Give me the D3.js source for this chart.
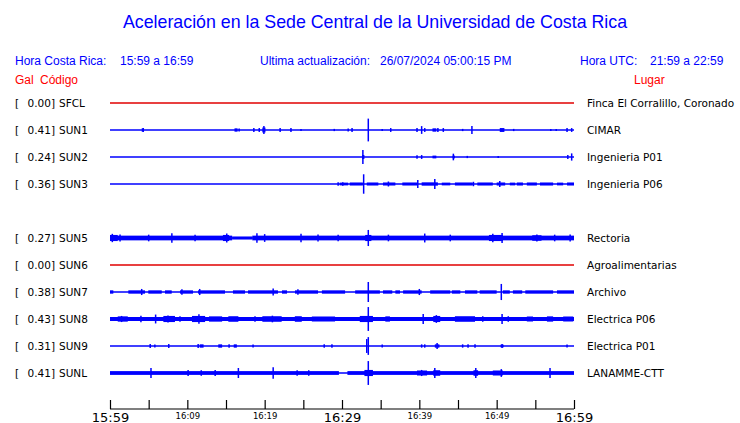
<!DOCTYPE html>
<html>
<head>
<meta charset="utf-8">
<script src="https://cdn.jsdelivr.net/npm/d3@7"></script>
<style>
html,body{margin:0;padding:0;background:#fff;}
svg{display:block;}
</style>
</head>
<body>
<svg id="chart" width="740" height="423"></svg>
<script>
// ---------- DATA ----------
const title = "Aceleración en la Sede Central de la Universidad de Costa Rica";
const rowSlots = ["SFCL","SUN1","SUN2","SUN3","SUN4","SUN5","SUN6","SUN7","SUN8","SUN9","SUNL"];
const stations = ["SFCL","SUN1","SUN2","SUN3","SUN5","SUN6","SUN7","SUN8","SUN9","SUNL"];
const gals     = [0.00, 0.41, 0.24, 0.36, 0.27, 0.00, 0.38, 0.43, 0.31, 0.41];
const places   = ["Finca El Corralillo, Coronado","CIMAR","Ingenieria P01","Ingenieria P06",
                  "Rectoria","Agroalimentarias","Archivo","Electrica P06","Electrica P01","LANAMME-CTT"];
const offline  = ["SFCL","SUN6"];
const tickMinutes = [0,5,10,15,20,25,30,35,40,45,50,55,60];
const tickLabels  = {0:"15:59",10:"16:09",20:"16:19",30:"16:29",40:"16:39",50:"16:49",60:"16:59"};
const majorLabels = [0,30,60];

// Spikes: [minute after 15:59, peak amplitude in Gal]
const sun1Spikes = [[4.3,0.07],[16.7,0.05],[18.6,0.07],[19.3,0.07],[19.9,0.14],[22.0,0.07],[23.4,0.07],
  [24.7,0.04],[29.0,0.04],[30.8,0.05],[31.3,0.07],[33.4,0.41],[35.2,0.04],[36.3,0.07],[39.7,0.07],
  [40.3,0.14],[40.7,0.07],[42.4,0.07],[43.1,0.07],[45.6,0.04],[46.8,0.14],[52.2,0.04],[57.0,0.04],
  [57.7,0.04],[59.1,0.07],[59.7,0.07]];
const sun1Bands = [[4.1,4.4,0.06],[16.1,16.5,0.06],[19.7,20.1,0.09],[41.7,42.2,0.06],[50.4,51.0,0.07]];

const sun2Spikes = [[32.7,0.25],[39.7,0.06],[40.3,0.07],[44.4,0.12],[46.2,0.04],[50.2,0.04],[59.2,0.07],[59.7,0.13]];
const sun2Bands  = [[41.7,42.2,0.05],[44.3,44.6,0.05],[32.6,32.9,0.07]];

const sun3Spikes = [[29.5,0.06],[30.1,0.06],[32.8,0.35],[39.8,0.14],[42.0,0.18],[50.4,0.11],[36.0,0.09],[47.0,0.08]];
const sun3Bands  = [[29.7,30.8,0.05],[31.0,32.7,0.055],[33.2,34.7,0.055],[35.3,36.9,0.055],[37.8,39.7,0.055],
  [40.3,42.4,0.06],[42.9,44.0,0.05],[44.6,46.9,0.055],[47.5,49.5,0.055],[50.0,51.1,0.055],[51.7,52.4,0.05],
  [52.6,53.4,0.055],[53.9,55.2,0.055],[55.6,57.3,0.055],[57.8,58.6,0.05],[59.1,60,0.055]];

const sun5Spikes = [[0.3,0.15],[1.3,0.13],[8.0,0.17],[15.1,0.16],[19.0,0.17],[20.0,0.14],[24.7,0.15],
  [26.9,0.13],[33.4,0.29],[40.7,0.16],[49.5,0.15],[50.7,0.18],[55.2,0.13],[59.5,0.13],[5.0,0.12],
  [11.0,0.12],[29.5,0.12],[36.0,0.12],[44.0,0.12],[57.5,0.12]];
const sun5Bands  = [[0,15.8,0.085],[15.8,18.4,0.055],[18.4,60,0.085],[0,1.0,0.11],[14.6,15.4,0.11],
  [33.0,33.8,0.11],[49.0,50.8,0.11],[54.6,55.8,0.10]];

const sun7Spikes = [[4.1,0.11],[9.3,0.10],[11.6,0.11],[21.1,0.13],[24.3,0.10],[33.4,0.36],[40.0,0.11],[50.6,0.29]];
const sun7Bands  = [[0,0.43,0.06],[2.37,4.53,0.06],[4.95,6.69,0.06],[7.11,7.98,0.06],[9.05,10.73,0.06],
  [11.38,14.87,0.06],[15.9,17.46,0.06],[17.85,21.72,0.06],[22.24,22.89,0.06],[23.92,26.9,0.06],
  [27.4,30.4,0.06],[31.7,34.9,0.06],[35.3,36.5,0.06],[36.9,37.5,0.06],[37.9,40.3,0.06],[41.4,44.0,0.06],
  [44.2,45.3,0.06],[45.9,47.5,0.06],[47.8,50.0,0.06],[50.8,51.7,0.06],[52.1,53.3,0.06],[53.7,57.3,0.06],
  [57.8,60,0.06]];

const sun8Spikes = [[4.0,0.12],[5.9,0.16],[9.05,0.10],[18.75,0.10],[33.4,0.43],[40.5,0.18],[48.2,0.10],
  [50.7,0.18],[51.5,0.10],[11.5,0.17],[1.5,0.11],[7.5,0.13],[21.0,0.12],[42.2,0.14]];
const sun8Bands  = [[0,60,0.072],[1.0,2.3,0.095],[6.9,8.4,0.11],[10.6,12.3,0.11],[12.8,14.5,0.095],
  [15.3,16.6,0.10],[19.7,22.2,0.10],[23.9,24.8,0.10],[26.1,29.1,0.09],[32.3,34.0,0.11],[35.6,36.2,0.095],
  [41.8,42.7,0.11],[44.6,47.2,0.10],[53.9,54.7,0.09],[56.5,57.3,0.095],[58.6,59.9,0.09]];

const sun9Spikes = [[5.2,0.07],[5.8,0.05],[7.6,0.07],[11.4,0.07],[15.4,0.06],[18.5,0.05],[27.7,0.06],
  [28.7,0.06],[33.2,0.25],[33.4,0.32],[35.2,0.05],[40.3,0.06],[40.7,0.06],[42.3,0.11],[45.6,0.06],
  [46.3,0.06],[47.2,0.06],[50.7,0.07],[59.1,0.05]];
const sun9Bands  = [[11.6,12.1,0.06],[14.0,14.5,0.06],[16.0,16.4,0.06],[42.0,42.6,0.06],[50.5,50.9,0.05]];

const sunlSpikes = [[5.3,0.18],[10.1,0.11],[11.8,0.10],[13.6,0.11],[16.6,0.18],[21.1,0.21],[24.2,0.10],
  [25.7,0.10],[33.4,0.43],[40.3,0.11],[42.0,0.18],[47.3,0.18],[50.6,0.14],[56.9,0.18]];
const sunlBands  = [[0,29.6,0.068],[30.7,60,0.068],[39.7,41.0,0.09],[41.8,42.7,0.10],[47.0,47.6,0.10],
  [49.5,50.8,0.09],[32.9,34.0,0.11]];

const spikeSets = {SUN1:sun1Spikes,SUN2:sun2Spikes,SUN3:sun3Spikes,SUN5:sun5Spikes,SUN7:sun7Spikes,
  SUN8:sun8Spikes,SUN9:sun9Spikes,SUNL:sunlSpikes};
const bandSets  = {SUN1:sun1Bands,SUN2:sun2Bands,SUN3:sun3Bands,SUN5:sun5Bands,SUN7:sun7Bands,
  SUN8:sun8Bands,SUN9:sun9Bands,SUNL:sunlBands};

// ---------- DRAWING ----------
const BLUE = "#0000ff", RED = "#e00000";
const svg = d3.select("#chart");

const x = d3.scaleLinear().domain([0,60]).range([110,574]);
const y = d3.scalePoint().domain(rowSlots).range([103,373]);
const amp = d3.scaleLinear().domain([0,0.45]).range([0,12.5]);

// Title
svg.append("text").attr("x",375).attr("y",28).attr("text-anchor","middle")
  .attr("font-family","Liberation Sans, Arial, sans-serif").attr("font-size",17.8)
  .attr("fill",BLUE).text(title);

// Header row
const hdr = svg.append("g").attr("font-family","Liberation Sans, Arial, sans-serif")
  .attr("font-size",12).attr("fill",BLUE);
[["Hora Costa Rica:",15],["15:59 a 16:59",120],["Ultima actualización:",260],
 ["26/07/2024 05:00:15 PM",380],["Hora UTC:",580],["21:59 a 22:59",650]].forEach(([t,px])=>{
  hdr.append("text").attr("x",px).attr("y",65).text(t);
});
const hdr2 = svg.append("g").attr("font-family","Liberation Sans, Arial, sans-serif")
  .attr("font-size",12).attr("fill","#ff0000");
[["Gal",15],["Código",40],["Lugar",634]].forEach(([t,px])=>{
  hdr2.append("text").attr("x",px).attr("y",84).text(t);
});

// Rows
const rows = svg.append("g");
stations.forEach((code,i)=>{
  const cy = y(code);
  const g = rows.append("g");
  const isOff = offline.includes(code);
  const col = isOff ? RED : BLUE;
  (bandSets[code]||[]).forEach(([t0,t1,a])=>{
    g.append("rect").attr("x",x(t0)).attr("width",Math.max(1,x(t1)-x(t0)))
      .attr("y",cy-amp(a)).attr("height",2*amp(a)).attr("fill",col);
  });
  g.append("line").attr("x1",x(0)).attr("x2",x(60)).attr("y1",cy).attr("y2",cy)
    .attr("stroke",col).attr("stroke-width",1.4);
  (spikeSets[code]||[]).forEach(([t,a])=>{
    g.append("line").attr("x1",x(t)).attr("x2",x(t)).attr("y1",cy-amp(a)).attr("y2",cy+amp(a))
      .attr("stroke",col).attr("stroke-width",1.5);
  });
  const lab = g.append("g").attr("font-family","DejaVu Sans, sans-serif").attr("font-size",10.5).attr("fill","#000");
  lab.append("text").attr("x",15).attr("y",cy+4).text("[");
  lab.append("text").attr("x",55).attr("y",cy+4).attr("text-anchor","end").text(gals[i].toFixed(2)+"]");
  lab.append("text").attr("x",59).attr("y",cy+4).text(code);
  lab.append("text").attr("x",587).attr("y",cy+4).text(places[i]);
});

// Time axis
const axis = d3.axisBottom(x).tickValues(tickMinutes).tickSize(-9).tickPadding(4)
  .tickFormat(d => tickLabels[d] || "");
const ax = svg.append("g").attr("transform","translate(0,409)").call(axis);
ax.select(".domain").attr("stroke","#000").attr("stroke-width",1.2).attr("d","M110,0H574");
ax.selectAll(".tick line").attr("stroke","#000").attr("stroke-width",1.2);
ax.selectAll(".tick text").attr("fill","#000").attr("font-family","DejaVu Sans, sans-serif")
  .attr("dy",null)
  .attr("y", d => majorLabels.includes(d) ? 12.5 : 10)
  .attr("font-size", d => majorLabels.includes(d) ? 13 : 8.5);
</script>
</body>
</html>
